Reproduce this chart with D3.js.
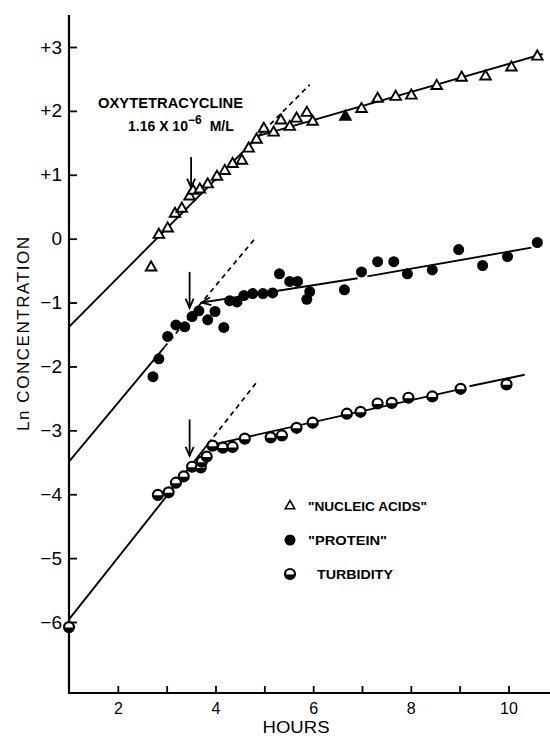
<!DOCTYPE html>
<html>
<head>
<meta charset="utf-8">
<script src="https://cdn.jsdelivr.net/npm/d3@7"></script>
<style>
  body { margin: 0; background: #fff; }
  text { font-family: "Liberation Sans", Arial, sans-serif; fill: #000; }
</style>
</head>
<body>
<div id="vis"></div>
<script>
// data: [hours, ln concentration]
var nucleicAcids = [
  [2.68, -0.45], [2.84, 0.06], [3.02, 0.16], [3.17, 0.39], [3.31, 0.47],
  [3.47, 0.66], [3.54, 0.75], [3.68, 0.77], [3.84, 0.85], [4.03, 0.97],
  [4.19, 1.06], [4.35, 1.17], [4.54, 1.22], [4.68, 1.41], [4.84, 1.55],
  [4.99, 1.72], [5.19, 1.66], [5.34, 1.85], [5.52, 1.75], [5.66, 1.88],
  [5.87, 1.97], [5.99, 1.83], [6.99, 2.03], [7.32, 2.19], [7.69, 2.22],
  [8.01, 2.24], [8.53, 2.39], [9.04, 2.52], [9.53, 2.54], [10.06, 2.68],
  [10.59, 2.85]
];
var nucleicFilled = [[6.66, 1.91]];

var protein = [
  [2.72, -2.16], [2.84, -1.88], [3.02, -1.53], [3.19, -1.35], [3.37, -1.38],
  [3.52, -1.22], [3.66, -1.13], [3.84, -1.27], [3.99, -1.14], [4.17, -1.39],
  [4.29, -0.97], [4.44, -0.99], [4.58, -0.89], [4.76, -0.86], [4.97, -0.86],
  [5.17, -0.85], [5.31, -0.55], [5.52, -0.67], [5.68, -0.67], [5.87, -0.95],
  [5.93, -0.83], [6.64, -0.80], [6.99, -0.52], [7.32, -0.36], [7.65, -0.36],
  [7.93, -0.55], [8.44, -0.49], [8.98, -0.17], [9.47, -0.42], [9.98, -0.28],
  [10.59, -0.06]
];

var turbidity = [
  [1.0, -6.08], [2.82, -4.01], [3.04, -3.97], [3.19, -3.82], [3.35, -3.72],
  [3.52, -3.57], [3.70, -3.58], [3.72, -3.49], [3.82, -3.41], [3.94, -3.24],
  [4.15, -3.27], [4.35, -3.26], [4.60, -3.13], [5.13, -3.11], [5.36, -3.08],
  [5.66, -2.96], [5.99, -2.88], [6.69, -2.74], [6.97, -2.71], [7.32, -2.58],
  [7.61, -2.57], [7.95, -2.49], [8.44, -2.47], [9.02, -2.35], [9.96, -2.28]
];

// fitted lines drawn on the figure
var solidLines = [
  [[1, -1.38], [4.99, 1.69]],
  [[4.88, 1.61], [10.7, 2.89]],
  [[1, -3.49], [2.95, -1.70]],
  [[3.72, -1.00], [6.91, -0.62]],
  [[7.11, -0.59], [10.47, -0.14]],
  [[1, -5.96], [3.85, -3.21]],
  [[3.85, -3.24], [9.04, -2.35]],
  [[9.20, -2.31], [10.33, -2.13]]
];
var dashedLines = [
  [[4.99, 1.69], [5.93, 2.41]],
  [[2.95, -1.70], [4.84, 0.03]],
  [[3.85, -3.21], [4.84, -2.25]]
];
// vertical arrows at the time of addition: [hours, from, to]
var arrows = [[3.5, 1.28, 0.80], [3.47, -0.52, -1.08], [3.47, -2.83, -3.40]];

var yTicks = [3, 2, 1, 0, -1, -2, -3, -4, -5, -6];
var xTicks = [2, 3, 4, 5, 6, 7, 8, 9, 10];
var xLabels = [2, 4, 6, 8, 10];

var legendItems = [
  { kind: "tri", label: "\"NUCLEIC ACIDS\"" },
  { kind: "dot", label: "\"PROTEIN\"" },
  { kind: "turb", label: "TURBIDITY" }
];

var width = 550,
    height = 738;

var svg = d3.select("#vis").append("svg")
    .attr("width", width)
    .attr("height", height);

var x = d3.scaleLinear().domain([1, 10.85]).range([69, 550]);
var y = d3.scaleLinear().domain([3, -6]).range([47, 622]);

var line = d3.line()
    .x(function(d) { return x(d[0]); })
    .y(function(d) { return y(d[1]); });

// axes
svg.append("line")
    .attr("x1", x(1)).attr("x2", x(1))
    .attr("y1", y(3.5)).attr("y2", 694)
    .attr("stroke", "#000").attr("stroke-width", 2.2);
svg.append("line")
    .attr("x1", x(1) - 1).attr("x2", width)
    .attr("y1", 693).attr("y2", 693)
    .attr("stroke", "#000").attr("stroke-width", 2.2);

var yAxis = svg.append("g")
    .attr("transform", "translate(" + x(1) + ",0)")
    .call(d3.axisLeft(y)
        .tickValues(yTicks)
        .tickSizeInner(-8)
        .tickSizeOuter(0)
        .tickPadding(7)
        .tickFormat(function(d) { return d > 0 ? "+" + d : d < 0 ? "\u2212" + (-d) : "0"; }));
yAxis.select(".domain").remove();
yAxis.selectAll("line").attr("stroke-width", 1.8);
yAxis.selectAll("text")
    .style("font-size", "19px")
    .style("font-family", "'Liberation Sans', Arial, sans-serif");

var xAxis = svg.append("g")
    .attr("transform", "translate(0,693)")
    .call(d3.axisBottom(x)
        .tickValues(xTicks)
        .tickSizeInner(-7)
        .tickSizeOuter(0)
        .tickPadding(10)
        .tickFormat(function(d) { return xLabels.indexOf(d) >= 0 ? d : ""; }));
xAxis.select(".domain").remove();
xAxis.selectAll("line").attr("stroke-width", 1.8);
xAxis.selectAll("text")
    .style("font-size", "16px")
    .style("font-family", "'Liberation Sans', Arial, sans-serif");

svg.append("text")
    .attr("x", 296).attr("y", 733)
    .attr("text-anchor", "middle")
    .attr("textLength", 67)
    .attr("lengthAdjust", "spacingAndGlyphs")
    .style("font-size", "16px")
    .text("HOURS");

svg.append("text")
    .attr("transform", "translate(29,334)rotate(-90)")
    .attr("text-anchor", "middle")
    .style("font-size", "17px")
    .attr("textLength", 194)
    .text("Ln CONCENTRATION");

// fitted lines
svg.selectAll("path.solid")
    .data(solidLines)
    .enter().append("path")
    .attr("class", "solid")
    .attr("d", line)
    .attr("fill", "none")
    .attr("stroke", "#000")
    .attr("stroke-width", 1.9);

svg.selectAll("path.dashed")
    .data(dashedLines)
    .enter().append("path")
    .attr("class", "dashed")
    .attr("d", line)
    .attr("fill", "none")
    .attr("stroke", "#000")
    .attr("stroke-width", 1.7)
    .attr("stroke-dasharray", "5,4");

// arrows
var arrowG = svg.selectAll("g.arrow")
    .data(arrows)
    .enter().append("g")
    .attr("class", "arrow");
arrowG.append("line")
    .attr("x1", function(d) { return x(d[0]); })
    .attr("x2", function(d) { return x(d[0]); })
    .attr("y1", function(d) { return y(d[1]); })
    .attr("y2", function(d) { return y(d[2]); })
    .attr("stroke", "#000").attr("stroke-width", 1.8);
arrowG.append("path")
    .attr("d", function(d) {
        var cx = x(d[0]), cy = y(d[2]);
        return "M" + [cx - 4, cy - 9] + "L" + [cx, cy] + "L" + [cx + 4, cy - 9];
    })
    .attr("fill", "none").attr("stroke", "#000").attr("stroke-width", 1.8);

// left-pointing arrowhead at the start of the protein plateau line
var pa = solidLines[3][0], pb = solidLines[3][1];
var ang = Math.atan2(y(pb[1]) - y(pa[1]), x(pb[0]) - x(pa[0]));
svg.append("path")
    .attr("transform", "translate(" + x(pa[0]) + "," + y(pa[1]) + ")rotate(" + ang * 180 / Math.PI + ")")
    .attr("d", "M9,-4L0,0L9,4")
    .attr("fill", "none").attr("stroke", "#000").attr("stroke-width", 1.8);

// symbols
var tri = d3.symbol().type(d3.symbolTriangle).size(48);

function drawTri(sel, filled) {
    sel.append("path")
        .attr("d", tri)
        .attr("fill", filled ? "#000" : "#fff")
        .attr("stroke", "#000")
        .attr("stroke-width", 1.9);
}
function drawDot(sel) {
    sel.append("circle").attr("r", 5.5).attr("fill", "#000");
}
function drawTurb(sel) {
    var r = 5;
    sel.append("circle").attr("r", r).attr("fill", "#fff")
        .attr("stroke", "#000").attr("stroke-width", 2.2);
    sel.append("path")
        .attr("d", "M" + [-r, 0.5] + "A" + [r, r] + " 0 0 0 " + [r, 0.5] + "Z")
        .attr("fill", "#000");
}

svg.append("g").selectAll("g")
    .data(nucleicAcids)
    .enter().append("g")
    .attr("transform", function(d) { return "translate(" + x(d[0]) + "," + y(d[1]) + ")"; })
    .call(drawTri, false);

svg.append("g").selectAll("g")
    .data(nucleicFilled)
    .enter().append("g")
    .attr("transform", function(d) { return "translate(" + x(d[0]) + "," + y(d[1]) + ")"; })
    .call(drawTri, true);

svg.append("g").selectAll("g")
    .data(protein)
    .enter().append("g")
    .attr("transform", function(d) { return "translate(" + x(d[0]) + "," + y(d[1]) + ")"; })
    .call(drawDot);

svg.append("g").selectAll("g")
    .data(turbidity)
    .enter().append("g")
    .attr("transform", function(d) { return "translate(" + x(d[0]) + "," + y(d[1]) + ")"; })
    .call(drawTurb);

// annotation
svg.append("text")
    .attr("x", 98).attr("y", 108)
    .attr("textLength", 145)
    .attr("lengthAdjust", "spacingAndGlyphs")
    .style("font-size", "14px")
    .style("font-weight", "bold")
    .text("OXYTETRACYCLINE");

var conc = svg.append("text")
    .attr("x", 128).attr("y", 131)
    .style("font-size", "14px")
    .style("font-weight", "bold");
conc.append("tspan").text("1.16 X 10");
conc.append("tspan").attr("dy", -7).style("font-size", "12px").text("\u22126");
conc.append("tspan").attr("dy", 7).attr("dx", 8).text("M/L");

// legend
var legend = svg.selectAll("g.legend")
    .data(legendItems)
    .enter().append("g")
    .attr("class", "legend")
    .attr("transform", function(d, i) { return "translate(290," + (506 + i * 34) + ")"; });

legend.each(function(d) {
    var g = d3.select(this);
    if (d.kind === "tri") {
        g.append("path").attr("d", d3.symbol().type(d3.symbolTriangle).size(38))
            .attr("fill", "#fff").attr("stroke", "#000").attr("stroke-width", 1.6);
    } else if (d.kind === "dot") {
        drawDot(g);
    } else {
        drawTurb(g);
    }
    var widths = { tri: 119, dot: 79, turb: 76 };
    g.append("text")
        .attr("x", d.kind === "turb" ? 27 : 18)
        .attr("y", 5)
        .attr("textLength", widths[d.kind])
        .attr("lengthAdjust", "spacingAndGlyphs")
        .style("font-size", "13px")
        .style("font-weight", "bold")
        .text(d.label);
});
</script>
</body>
</html>
